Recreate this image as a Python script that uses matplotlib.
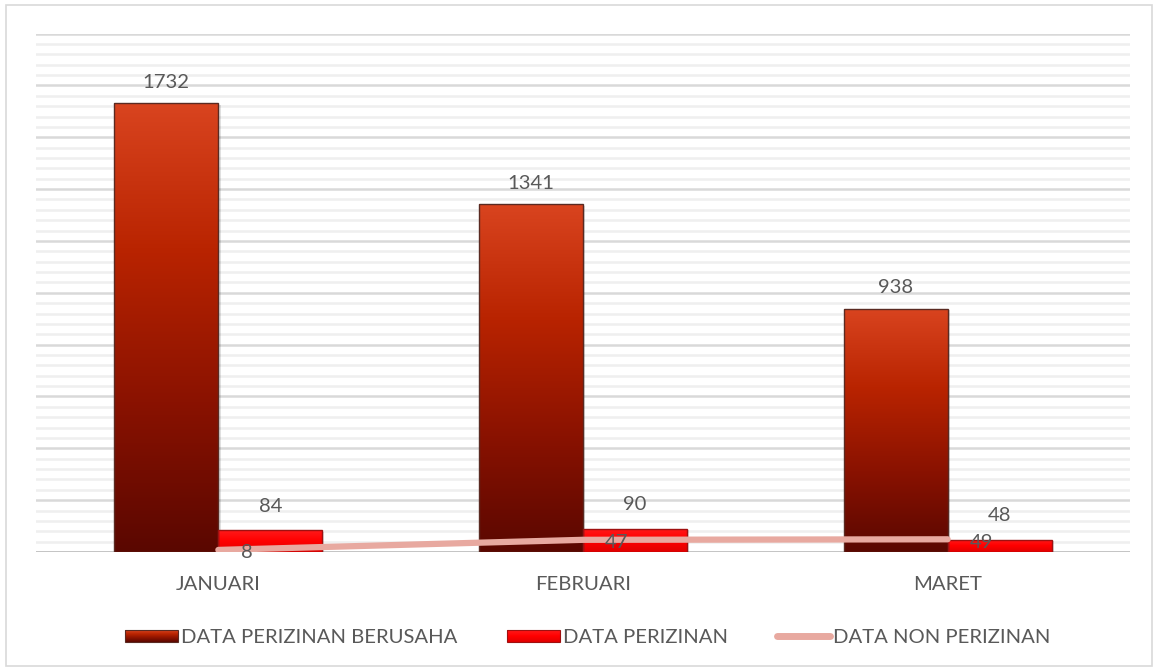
import numpy as np
import matplotlib
matplotlib.use("Agg")
import matplotlib.pyplot as plt
from matplotlib.patches import Rectangle
from matplotlib.colors import LinearSegmentedColormap
from matplotlib.legend_handler import HandlerBase
from matplotlib.lines import Line2D

# ---- data ----
categories = ["JANUARI", "FEBRUARI", "MARET"]
perizinan_berusaha = [1732, 1341, 938]
perizinan = [84, 90, 48]
non_perizinan = [8, 47, 49]
series_names = ["DATA PERIZINAN BERUSAHA", "DATA PERIZINAN", "DATA NON PERIZINAN"]

plt.rcParams['font.family'] = ['Lato', 'DejaVu Sans']
TXT = '#595959'
FS = 14.6

W, H = 1157, 671
fig = plt.figure(figsize=(W / 100, H / 100), dpi=100)
ax = fig.add_axes([36 / W, 119 / H, (1130 - 36) / W, (552 - 33.6) / H])

dark_cmap = LinearSegmentedColormap.from_list(
    'dk', ['#5A0700', '#8A1200', '#B82300', '#D9441F'])
red_cmap = LinearSegmentedColormap.from_list(
    'rd', ['#E00000', '#FF0000', '#FF1A1A'])

bw = 0.285
x = np.arange(len(categories))
grad = np.linspace(0, 1, 256).reshape(-1, 1)

# gridlines
for v in range(40, 2001, 40):
    if v % 200 == 0:
        ax.axhline(v, color='#D9D9D9', lw=1.8, zorder=0)
    else:
        ax.axhline(v, color='#EFEFEF', lw=1.8, zorder=0)
ax.axhline(0, color='#BFBFBF', lw=2, zorder=1)

def grad_bar(x0, width, h, cmap, edge):
    # shadow
    ax.add_patch(Rectangle((x0 + 0.006, -8), width, h + 2, facecolor='#000000',
                           alpha=0.12, edgecolor='none', zorder=2))
    bar = ax.bar(x0, h, width, align='edge', color='none', edgecolor=edge,
                 linewidth=1.0, zorder=4)[0]
    im = ax.imshow(grad, cmap=cmap, origin='lower', aspect='auto',
                   extent=[x0, x0 + width, 0, h], zorder=3)
    im.set_clip_path(bar)
    return bar

for i in range(len(categories)):
    grad_bar(x[i] - bw, bw, perizinan_berusaha[i], dark_cmap, '#5A2A22')
    grad_bar(x[i], bw, perizinan[i], red_cmap, '#A01010')
    ax.annotate(str(perizinan_berusaha[i]), (x[i] - bw / 2, perizinan_berusaha[i]),
                xytext=(0, 9), textcoords='offset points', ha='center', va='bottom',
                fontsize=FS, color=TXT, zorder=6)
    ax.annotate(str(perizinan[i]), (x[i] + bw / 2, perizinan[i]),
                xytext=(0, 11), textcoords='offset points', ha='center', va='bottom',
                fontsize=FS, color=TXT, zorder=6)

ax.plot(x, non_perizinan, color='#E8A9A0', lw=4.5, solid_capstyle='round', zorder=5)
for i in range(len(categories)):
    ax.annotate(str(non_perizinan[i]), (x[i], non_perizinan[i]),
                xytext=(16, -2), textcoords='offset points', ha='left', va='center',
                fontsize=FS, color=TXT, zorder=6)

ax.set_xlim(-0.5, 2.5)
ax.set_ylim(0, 2000)
ax.set_xticks(x)
ax.set_xticklabels(categories, fontsize=FS, color=TXT)
ax.tick_params(axis='x', length=0, pad=17)
ax.set_yticks([])
for s in ax.spines.values():
    s.set_visible(False)
ax.set_facecolor('none')


class GradHandler(HandlerBase):
    def __init__(self, cmap, edge):
        super().__init__()
        self.cmap = cmap
        self.edge = edge

    def create_artists(self, legend, orig_handle, xdescent, ydescent, width, height, fontsize, trans):
        arts = []
        n = 12
        y0 = -ydescent + height * 0.1
        hh = height * 0.8
        for k in range(n):
            c = self.cmap(1 - (k + 0.5) / n)
            r = Rectangle((-xdescent, y0 + hh - (k + 1) * hh / n), width, hh / n,
                          facecolor=c, edgecolor='none', transform=trans)
            arts.append(r)
        arts.append(Rectangle((-xdescent, y0), width, hh, facecolor='none',
                              edgecolor=self.edge, lw=0.8, transform=trans))
        return arts


h1 = Rectangle((0, 0), 1, 1)
h2 = Rectangle((0, 0), 1, 1)
h3 = Line2D([], [], color='#E8A9A0', lw=5, solid_capstyle='round')
leg = fig.legend([h1, h2, h3], series_names, loc='center', bbox_to_anchor=(0.508, 1 - 637 / H),
                 ncol=3, frameon=False, fontsize=FS, labelcolor=TXT,
                 handlelength=2.6, handleheight=0.8, handletextpad=0.15, columnspacing=2.45,
                 handler_map={h1: GradHandler(dark_cmap, '#5A2A22'),
                              h2: GradHandler(red_cmap, '#A01010')})

fig.patches.append(Rectangle((6 / W, 5 / H), (1152 - 6) / W, (666 - 5) / H,
                             transform=fig.transFigure, facecolor='none',
                             edgecolor='#D9D9D9', lw=1.2))

fig.savefig('out.png', dpi=100, facecolor='white')
